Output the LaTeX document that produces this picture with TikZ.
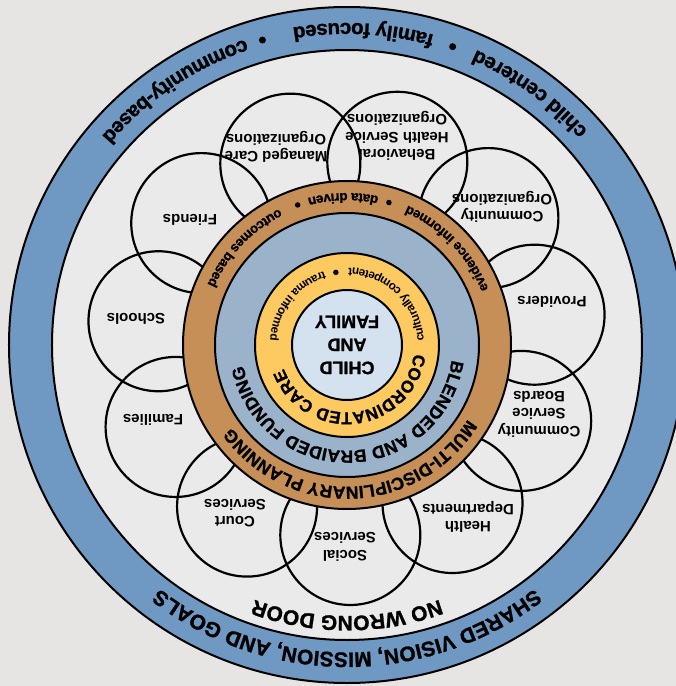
\documentclass[tikz,border=0pt]{standalone}
\usepackage{fontspec}
\setmainfont{Liberation Sans}
\newfontfamily\heavyfont{Liberation Sans}[BoldFeatures={FakeBold=1.2}]
\usetikzlibrary{decorations.text}
\definecolor{bgout}{HTML}{E6E5E4}
\definecolor{bgin}{HTML}{EAEAEA}
\definecolor{visionblue}{HTML}{6F99C3}
\definecolor{planorange}{HTML}{C68F58}
\definecolor{fundblue}{HTML}{9BB3CA}
\definecolor{careyellow}{HTML}{FDCA62}
\definecolor{corelight}{HTML}{D3E2EE}
\newcommand\visionfont{\heavyfont\fontsize{21}{21}\selectfont\bfseries}
\newcommand\valuefont{\heavyfont\fontsize{20.5}{20.5}\selectfont\bfseries}
\newcommand\planfont{\heavyfont\fontsize{17.5}{17.5}\selectfont\bfseries}
\newcommand\carefont{\heavyfont\fontsize{17}{17}\selectfont\bfseries}
\newcommand\midvaluefont{\heavyfont\fontsize{13.5}{13.5}\selectfont\bfseries}
\newcommand\smallvaluefont{\fontsize{11.8}{11.8}\selectfont\bfseries}
\newcommand\corefont{\heavyfont\fontsize{18}{23}\selectfont\bfseries}
\newcommand\orgfont{\fontsize{15}{17.5}\selectfont\bfseries}
\tikzset{
  ring/.style={draw=black, line width=2pt},
  orgcirc/.style={circle, draw=black, line width=2.2pt, minimum size=140pt, inner sep=0pt},
  orglbl/.style={align=center, font=\orgfont, inner sep=1pt},
  corelbl/.style={circle, draw=black, line width=2pt, fill=corelight, minimum size=110pt,
                  align=center, font=\corefont, inner sep=0pt},
  bigdot/.style={circle, fill=black, minimum size=7pt, inner sep=0pt},
  smalldot/.style={circle, fill=black, minimum size=5.5pt, inner sep=0pt},
  toparc/.style={decorate, decoration={text along path, text align=center, text={#1}}},
  botarc/.style={decorate, decoration={text along path, text align=center, text={#1}}},
}

\begin{document}
\begin{tikzpicture}[x=1pt, y=1pt, rotate=180, transform shape]
    \clip (-329,-345) rectangle (347,341);
    \fill[bgout] (-329,-345) rectangle (347,341);

    % outer band
    \draw[ring, fill=visionblue] (0,0) circle[radius=338pt];
    \draw[ring, fill=bgin] (0,0) circle[radius=295pt];

    % partner circles
    \node[orgcirc] (social)    at (91:190) {};
    \node[orgcirc] (health)    at (123.73:190) {};
    \node[orgcirc] (csb)       at (156.45:190) {};
    \node[orgcirc] (providers) at (189.18:190) {};
    \node[orgcirc] (commorg)   at (221.91:190) {};
    \node[orgcirc] (behav)     at (254.64:190) {};
    \node[orgcirc] (managed)   at (287.36:190) {};
    \node[orgcirc] (friends)   at (320.09:190) {};
    \node[orgcirc] (schools)   at (352.82:190) {};
    \node[orgcirc] (families)  at (25.55:190) {};
    \node[orgcirc] (court)     at (58.27:190) {};

    \node[orglbl] (l-social)    at (2,202)     {Social\\Services};
    \node[orglbl] (l-health)    at (-121,172)  {Health\\Departments};
    \node[orglbl] (l-csb)       at (-192,69)   {Community\\Service\\Boards};
    \node[orglbl] (l-providers) at (-205,-43)  {Providers};
    \node[orglbl] (l-commorg)   at (-155,-138) {Community\\Organizations};
    \node[orglbl] (l-behav)     at (-50,-209)  {Behavioral\\Health Service\\Organizations};
    \node[orglbl] (l-managed)   at (71,-198)   {Managed Care\\Organizations};
    \node[orglbl] (l-friends)   at (157,-125)  {Friends};
    \node[orglbl] (l-schools)   at (211,-26)   {Schools};
    \node[orglbl] (l-families)  at (194,75)    {Families};
    \node[orglbl] (l-court)     at (112,168)   {Court\\Services};

    % inner rings
    \draw[ring, fill=planorange] (0,0) circle[radius=164pt];
    \draw[ring, fill=fundblue] (0,0) circle[radius=132pt];
    \draw[ring, fill=careyellow] (0,0) circle[radius=92pt];
    \node[corelbl] (core) at (0,0) {CHILD\\AND\\FAMILY};

    % curved labels, upper half
    \path[toparc={|\visionfont|SHARED VISION, MISSION, AND GOALS}]
      (150:307.5) arc[start angle=150, end angle=30, radius=307.5pt];
    \path[toparc={|\visionfont|NO WRONG DOOR}]
      (140:271) arc[start angle=140, end angle=40, radius=271pt];
    \path[toparc={|\planfont|MULTI-DISCIPLINARY PLANNING}]
      (162:141.7) arc[start angle=162, end angle=22, radius=141.7pt];
    \path[toparc={|\planfont|BLENDED AND BRAIDED FUNDING}]
      (179.5:105.7) arc[start angle=179.5, end angle=3.5, radius=105.7pt];
    \path[toparc={|\carefont|COORDINATED CARE}]
      (181.5:67.5) arc[start angle=181.5, end angle=11.5, radius=67.5pt];

    % curved labels, lower half
    \path[botarc={|\valuefont|child centered}]
      (194:322) arc[start angle=194, end angle=274, radius=322pt];
    \path[botarc={|\valuefont|family focused}]
      (227:322) arc[start angle=227, end angle=307, radius=322pt];
    \path[botarc={|\valuefont|community-based}]
      (264:322) arc[start angle=264, end angle=344, radius=322pt];
    \node[bigdot] (v1) at (250.5:316.5) {};
    \node[bigdot] (v2) at (285.5:316.5) {};

    \path[botarc={|\midvaluefont|evidence informed}]
      (184:152) arc[start angle=184, end angle=264, radius=152pt];
    \path[botarc={|\midvaluefont|data driven}]
      (231.5:152) arc[start angle=231.5, end angle=311.5, radius=152pt];
    \path[botarc={|\midvaluefont|outcomes based}]
      (276.5:152) arc[start angle=276.5, end angle=356.5, radius=152pt];
    \node[smalldot] (p1) at (253.6:148.5) {};
    \node[smalldot] (p2) at (289.4:148.5) {};

    \path[botarc={|\smallvaluefont|culturally competent}]
      (166:77) arc[start angle=166, end angle=286, radius=77pt];
    \path[botarc={|\smallvaluefont|trauma informed}]
      (262:77) arc[start angle=262, end angle=382, radius=77pt];
    \node[smalldot] (y1) at (278.7:73.5) {};
\end{tikzpicture}
\end{document}
